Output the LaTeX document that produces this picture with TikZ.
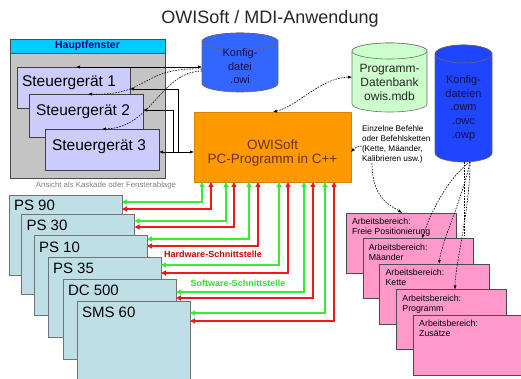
\documentclass[tikz,border=0pt]{standalone}
\usepackage{fontspec}
\setmainfont{Liberation Sans}
\usetikzlibrary{arrows.meta}
\definecolor{winGray}{HTML}{C4C4C4}
\definecolor{barCyan}{HTML}{00CCFF}
\definecolor{sgFill}{HTML}{CCCCFF}
\definecolor{owiBlue}{HTML}{3366FF}
\definecolor{cfgBlue}{HTML}{1F45FF}
\definecolor{dbGreen}{HTML}{CCFFCC}
\definecolor{owOrange}{HTML}{FF9900}
\definecolor{owText}{HTML}{6E3300}
\definecolor{devFill}{HTML}{BDDFE5}
\definecolor{pinkFill}{HTML}{FF99CC}
\definecolor{arrGreen}{HTML}{33EE33}
\definecolor{arrRed}{HTML}{EE1A1A}
\definecolor{navyText}{HTML}{000080}
\definecolor{cylText}{HTML}{10104A}
\definecolor{hwRed}{HTML}{CC0000}
\definecolor{swGreen}{HTML}{33DD33}

\newcommand\mycyl[6]{%
  \path[#6] ({#1-#4},{#2-#5}) -- ({#1-#4},{#3+#5})
    arc[start angle=180,end angle=360,x radius=#4,y radius=#5]
    -- ({#1+#4},{#2-#5})
    arc[start angle=0,end angle=180,x radius=#4,y radius=#5] -- cycle;
  \path[#6] (#1,{#2-#5}) ellipse[x radius=#4,y radius=#5];
}

\begin{document}
\begin{tikzpicture}[x=1pt,y=1pt,
  every node/.style={inner sep=0pt, outer sep=0pt},
  sgbox/.style={anchor=north west, draw=black!75, fill=sgFill, line width=0.6pt},
  devbox/.style={anchor=north west, draw=black!55, fill=devFill, line width=0.6pt, minimum width=113pt, minimum height=80pt},
  pkbox/.style={anchor=north west, draw=black!70, fill=pinkFill, line width=0.6pt, minimum width=110pt, minimum height=60pt},
  sgtext/.style={anchor=base west, font=\fontsize{15.5}{17}\selectfont},
  devtext/.style={anchor=base west, font=\fontsize{15}{17}\selectfont},
  pktext/.style={anchor=north west, align=left, font=\fontsize{8.8}{10}\selectfont},
  conn/.style={draw=black, line width=0.6pt},
  dconn/.style={conn, dash pattern=on 1.6pt off 1.2pt},
  >={Latex[length=4pt,width=3.2pt]},
  garrow/.style={draw=arrGreen, line width=1.6pt, {Triangle[length=5pt,width=5pt]}-{Triangle[length=5pt,width=5pt]}},
  rarrow/.style={garrow, draw=arrRed}
]
\fill[white] (0,0) rectangle (521,-379);
\useasboundingbox (0,0) rectangle (521,-379);

% title
\node[font=\fontsize{18}{20}\selectfont, text=black!85] (title) at (270,-18.5) {OWISoft / MDI-Anwendung};

% main window
\node[anchor=north west, fill=winGray, draw=black!70, line width=0.6pt, minimum width=155pt, minimum height=139pt] (hf) at (10,-39) {};
\node[anchor=north west, fill=barCyan, draw=black!70, line width=0.6pt, minimum width=155pt, minimum height=14pt, font=\bfseries\fontsize{10.5}{12}\selectfont, text=navyText] (hfbar) at (10,-39) {Hauptfenster};
\node[font=\fontsize{7.8}{9}\selectfont, text=black!50] (hfcap) at (106,-185) {Ansicht als Kaskade oder Fensterablage};

\node[sgbox, minimum width=113pt, minimum height=41pt] (sg1) at (17,-67) {};
\node[sgtext] (sg1t) at (22,-87) {Steuergerät 1};
\node[sgbox, minimum width=114pt, minimum height=43pt] (sg2) at (29,-94) {};
\node[sgtext] (sg2t) at (36,-116) {Steuergerät 2};
\node[sgbox, minimum width=114pt, minimum height=41pt] (sg3) at (45,-129) {};
\node[sgtext] (sg3t) at (52,-151) {Steuergerät 3};

% cylinders
\mycyl{240}{-33}{-92}{38}{8.5}{fill=owiBlue,draw=black!60,line width=0.6pt}
\node[align=center, font=\fontsize{11}{13.5}\selectfont, text=cylText, minimum width=76pt, minimum height=51pt] (owi) at (240,-66.5) {Konfig-\\datei\\.owi};

\mycyl{389.5}{-43}{-112}{37.5}{8}{fill=dbGreen,draw=black!55,line width=0.6pt}
\node[align=center, font=\fontsize{12}{14}\selectfont, text=black!85, minimum width=75pt, minimum height=61pt] (db) at (389.5,-82.5) {Programm-\\Datenbank\\owis.mdb};

\mycyl{463.5}{-45}{-162}{28.5}{9}{fill=cfgBlue,draw=black!60,line width=0.6pt}
\node[align=center, font=\fontsize{11}{13.75}\selectfont, text=cylText, minimum width=57pt, minimum height=108pt] (cfg) at (463.5,-108) {Konfig-\\dateien\\.owm\\.owc\\.owp};

% central program
\node[anchor=north west, fill=owOrange, draw=owOrange!85!black, line width=0.5pt, minimum width=157pt, minimum height=70pt] (ow) at (194,-112) {};
\node[align=center, font=\fontsize{13.5}{14}\selectfont, text=owText] (owt) at (272.5,-153) {OWISoft\\PC-Programm in C++};

% connectors main window
\draw[conn,<->] (owi.west |- 0,-67) -- (sg1.north -| 76,0);
\draw[dconn,->] (owi.west |- 0,-69) .. controls (140,-67) and (150,-96) .. (sg2.north -| 88,0);
\draw[dconn,->] (owi.west |- 0,-71) .. controls (160,-72) and (152,-128) .. (sg3.north -| 102,0);
\draw[conn,<->] (sg3.east |- 0,-152) -- (ow.west |- 0,-152);
\coordinate (ja) at (178,-152);
\coordinate (jb) at (173,-152);
\draw[conn,->] (ja) |- (sg1.east |- 0,-89);
\draw[conn,->] (jb) |- (sg2.east |- 0,-110);

% database
\draw[dconn,<->] (ow.north -| 273,0) .. controls (298,-106) and (320,-78) .. (db.west |- 0,-77);

% commands text
\node[anchor=north west, align=left, font=\fontsize{8.2}{10}\selectfont] (cmd) at (362,-125.5) {Einzelne Befehle\\oder Befehlsketten\\(Kette, Mäander,\\Kalibrieren usw.)};
\draw[dconn,->] (cmd.west |- 0,-146) .. controls (356,-147) .. (ow.east |- 0,-152);

% work areas
\coordinate (p2top) at (422,-238.5);
\coordinate (p3top) at (439,-264);
\coordinate (p4top) at (455,-289.5);
\coordinate (p5top) at (464,-315);
\draw[dconn] (cfg.south -| 464,0) -- (p5top);
\node[pkbox] (p1) at (346,-213) {};
\node[pktext] (p1t) at (352,-218.6) {Arbeitsbereich:\\Freie Positionierung};
\draw[dconn,->] (cmd.south -| 372,0) .. controls (372,-200) and (392,-206) .. (p1.north -| 402,0);
\draw[dconn,->] (cfg.south -| 470,0) .. controls (445,-180) and (428,-220) .. (p2top);
\node[pkbox] (p2) at (362.8,-238.5) {};
\node[pktext] (p2t) at (368.8,-244.1) {Arbeitsbereich:\\Mäander};
\draw[dconn,->] (cfg.south -| 470,0) .. controls (462,-200) and (442,-240) .. (p3top);
\node[pkbox] (p3) at (379.6,-264) {};
\node[pktext] (p3t) at (385.6,-269.6) {Arbeitsbereich:\\Kette};
\draw[dconn,->] (cfg.south -| 470,0) .. controls (470,-210) and (455,-265) .. (p4top);
\node[pkbox] (p4) at (396.4,-289.5) {};
\node[pktext] (p4t) at (402.4,-295.1) {Arbeitsbereich:\\Programm};
\node[pkbox] (p5) at (413.2,-315) {};
\node[pktext] (p5t) at (419.2,-320.6) {Arbeitsbereich:\\Zusätze};

% devices
\node[devbox] (d0) at (9,-195) {};
\node[devtext] (d0t) at (14,-211) {PS 90};
\node[devbox] (d1) at (21.5,-214.5) {};
\node[devtext] (d1t) at (26.5,-230.5) {PS 30};
\node[devbox] (d2) at (34,-235) {};
\node[devtext] (d2t) at (39,-252) {PS 10};
\node[devbox] (d3) at (48,-257) {};
\node[devtext] (d3t) at (53,-273) {PS 35};
\node[devbox] (d4) at (63,-279) {};
\node[devtext] (d4t) at (68,-295) {DC 500};
\node[devbox] (d5) at (77,-301) {};
\node[devtext] (d5t) at (82,-317) {SMS 60};

% interfaces
\draw[garrow] (ow.south -| 202,0) |- (d0.east |- 0,-202);
\draw[rarrow] (ow.south -| 211,0) |- (d0.east |- 0,-209);
\draw[garrow] (ow.south -| 226,0) |- (d1.east |- 0,-221);
\draw[rarrow] (ow.south -| 234,0) |- (d1.east |- 0,-227);
\draw[garrow] (ow.south -| 249,0) |- (d2.east |- 0,-239);
\draw[rarrow] (ow.south -| 258,0) |- (d2.east |- 0,-246);
\draw[garrow] (ow.south -| 279,0) |- (d3.east |- 0,-265);
\draw[rarrow] (ow.south -| 288,0) |- (d3.east |- 0,-273);
\draw[garrow] (ow.south -| 304,0) |- (d4.east |- 0,-292);
\draw[rarrow] (ow.south -| 313,0) |- (d4.east |- 0,-298);
\draw[garrow] (ow.south -| 325,0) |- (d5.east |- 0,-313);
\draw[rarrow] (ow.south -| 334,0) |- (d5.east |- 0,-321);

\node[font=\bfseries\fontsize{9}{10}\selectfont, text=hwRed] (hw) at (213,-254) {Hardware-Schnittstelle};
\node[font=\bfseries\fontsize{9}{10}\selectfont, text=swGreen] (sw) at (238,-283) {Software-Schnittstelle};
\end{tikzpicture}
\end{document}
